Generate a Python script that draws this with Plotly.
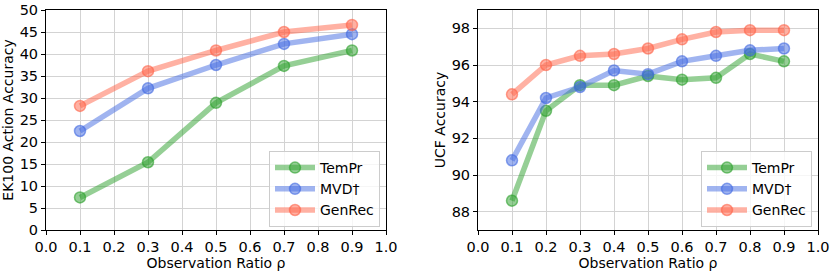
import plotly.graph_objects as go

ek_x = [0.1, 0.3, 0.5, 0.7, 0.9]
ek_tempr = [7.4, 15.4, 28.9, 37.3, 40.8]
ek_mvd = [22.5, 32.2, 37.5, 42.3, 44.5]
ek_genrec = [28.2, 36.1, 40.8, 45.0, 46.6]

ucf_x = [0.1, 0.2, 0.3, 0.4, 0.5, 0.6, 0.7, 0.8, 0.9]
ucf_tempr = [88.6, 93.5, 94.9, 94.9, 95.4, 95.2, 95.3, 96.6, 96.2]
ucf_mvd = [90.8, 94.2, 94.8, 95.7, 95.5, 96.2, 96.5, 96.8, 96.9]
ucf_genrec = [94.4, 96.0, 96.5, 96.6, 96.9, 97.4, 97.8, 97.9, 97.9]

names = ["TemPr", "MVD†", "GenRec"]
colors = [(44, 160, 44), (65, 105, 225), (255, 99, 71)]

x_ticks = [0.0, 0.1, 0.2, 0.3, 0.4, 0.5, 0.6, 0.7, 0.8, 0.9, 1.0]

fig = go.Figure()
FONT = "DejaVu Sans"
TICK = 14.5
TITLE = 14


def add(xv, yv, name, col, xa, ya):
    r, g, b = col
    fig.add_trace(go.Scatter(
        x=xv, y=yv, name=name, mode="lines+markers",
        xaxis=xa, yaxis=ya, showlegend=True,
        legend="legend" if xa == "x" else "legend2",
        line=dict(color=f"rgba({r},{g},{b},0.5)", width=5.5),
        marker=dict(size=11, color=f"rgba({r},{g},{b},0.5)",
                    line=dict(color=f"rgba({r},{g},{b},0.6)", width=1.5)),
    ))


for yv, n, c in zip([ek_tempr, ek_mvd, ek_genrec], names, colors):
    add(ek_x, yv, n, c, "x", "y")
for yv, n, c in zip([ucf_tempr, ucf_mvd, ucf_genrec], names, colors):
    add(ucf_x, yv, n, c, "x2", "y2")

axis_common = dict(
    showline=True, linecolor="black", linewidth=1, mirror=True,
    ticks="outside", ticklen=4, tickcolor="black",
    showgrid=True, gridcolor="#d3d3d3", gridwidth=1,
    tickfont=dict(family=FONT, size=TICK, color="black"),
    zeroline=False, automargin=False,
)
ydom = [43 / 273, 263 / 273]
leg = dict(bgcolor="rgba(255,255,255,0.8)", bordercolor="#cccccc", borderwidth=1,
           font=dict(family=FONT, size=TITLE), tracegroupgap=0, itemwidth=40,
           xanchor="right", yanchor="bottom")

fig.update_layout(
    width=831, height=273,
    margin=dict(l=0, r=0, t=0, b=0),
    paper_bgcolor="white", plot_bgcolor="white",
    font=dict(family=FONT, size=TITLE, color="black"),
    xaxis=dict(domain=[46 / 831, 386 / 831], range=[0, 1], tickvals=x_ticks,
               ticktext=[f"{v:.1f}" for v in x_ticks], anchor="y",
               title=dict(text="Observation Ratio ρ", font=dict(size=TITLE), standoff=2),
               **axis_common),
    yaxis=dict(domain=ydom, range=[0, 50], dtick=5, anchor="x",
               title=dict(text="EK100 Action Accuracy", font=dict(size=TITLE), standoff=2),
               **axis_common),
    xaxis2=dict(domain=[478 / 831, 818 / 831], range=[0, 1], tickvals=x_ticks,
                ticktext=[f"{v:.1f}" for v in x_ticks], anchor="y2",
                title=dict(text="Observation Ratio ρ", font=dict(size=TITLE), standoff=2),
                **axis_common),
    yaxis2=dict(domain=ydom, range=[87, 99], tickvals=[88, 90, 92, 94, 96, 98], anchor="x2",
                title=dict(text="UCF Accuracy", font=dict(size=TITLE), standoff=2),
                **axis_common),
    legend=dict(x=380 / 831, y=(273 - 227) / 273, **leg),
    legend2=dict(x=812 / 831, y=(273 - 227) / 273, **leg),
)

fig.write_html("out.html", config={"displayModeBar": False},
               post_script="document.body.style.margin='0';document.body.style.overflow='hidden';")
